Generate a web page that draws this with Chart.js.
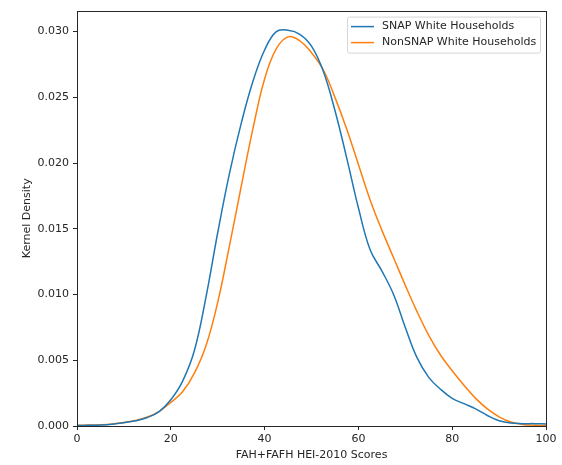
<!DOCTYPE html>
<html>
<head>
<meta charset="utf-8">
<script src="https://cdn.jsdelivr.net/npm/chart.js@4/dist/chart.umd.min.js"></script>
<style>
  html, body { margin: 0; padding: 0; background: #fff; }
  canvas { display: block; }
</style>
</head>
<body>
<canvas id="kdeChart" width="562" height="465"></canvas>
<script>
// HEI score grid (x) and kernel density values
const scores = [0, 2.5, 5, 7.5, 10, 12.5, 15, 17.5, 20, 22.5, 25, 27.5, 30, 32.5, 35, 37.5, 40, 42.5, 45, 47.5,
                50, 52.5, 55, 57.5, 60, 62.5, 65, 67.5, 70, 72.5, 75, 77.5, 80, 82.5, 85, 87.5, 90, 92.5, 95, 97.5, 100];

const snapDensity = [0.00003, 0.00005, 0.00008, 0.00014, 0.00025, 0.00040, 0.00065, 0.0011, 0.0020, 0.0034,
                     0.0057, 0.0098, 0.0147, 0.0192, 0.0230, 0.0262, 0.0286, 0.0300, 0.0301, 0.0298,
                     0.0289, 0.0270, 0.0240, 0.0204, 0.0166, 0.0134, 0.0118, 0.0100, 0.0075, 0.0052,
                     0.0037, 0.0028, 0.0021, 0.0017, 0.0013, 0.0008, 0.0004, 0.00022, 0.00018, 0.00018, 0.00016];

const nonSnapDensity = [0.00005, 0.00007, 0.0001, 0.00016, 0.00027, 0.00042, 0.00068, 0.0011, 0.0018, 0.0026,
                        0.0040, 0.0061, 0.0094, 0.0137, 0.0182, 0.0226, 0.0264, 0.0287, 0.0296, 0.0293,
                        0.0284, 0.0271, 0.0250, 0.0226, 0.0199, 0.0172, 0.0149, 0.0128, 0.0107, 0.0087,
                        0.0069, 0.0054, 0.0042, 0.0031, 0.0021, 0.0013, 0.0007, 0.0003, 0.00012, 0.00006, 0.00004];

const seriesLabels = ['SNAP White Households', 'NonSNAP White Households'];
const xTickValues  = [0, 20, 40, 60, 80, 100];
const yTickValues  = [0, 0.005, 0.010, 0.015, 0.020, 0.025, 0.030];

const FONT = 'DejaVu Sans';
const INK  = '#262626';

// full box around the plot area, like matplotlib spines
const frameBox = {
  id: 'frameBox',
  afterDatasetsDraw(chart) {
    const { ctx, chartArea: a } = chart;
    ctx.save();
    ctx.strokeStyle = INK;
    ctx.lineWidth = 1;
    ctx.strokeRect(Math.round(a.left) + 0.5, Math.round(a.top) + 0.5,
                   Math.round(a.right - a.left), Math.round(a.bottom - a.top));
    ctx.restore();
  }
};

// legend box in the upper right corner
const cornerLegend = {
  id: 'cornerLegend',
  afterDraw(chart) {
    const { ctx, chartArea: a } = chart;
    const sets = chart.data.datasets;
    const w = 193, rowH = 16, h = 36;
    const x0 = a.right - 6 - w, y0 = a.top + 6;
    ctx.save();
    ctx.fillStyle = 'rgba(255,255,255,0.8)';
    ctx.strokeStyle = '#d6d6d6';
    ctx.lineWidth = 1;
    ctx.beginPath();
    ctx.roundRect(x0 + 0.5, y0 + 0.5, w, h, 2);
    ctx.fill();
    ctx.stroke();
    ctx.font = `11px "${FONT}"`;
    ctx.textBaseline = 'middle';
    sets.forEach((ds, i) => {
      const cy = y0 + 10 + i * rowH;
      ctx.strokeStyle = ds.borderColor;
      ctx.lineWidth = 1.5;
      ctx.beginPath();
      ctx.moveTo(x0 + 4, cy);
      ctx.lineTo(x0 + 27, cy);
      ctx.stroke();
      ctx.fillStyle = INK;
      ctx.fillText(ds.label, x0 + 35, cy);
    });
    ctx.restore();
  }
};

const toPoints = ys => scores.map((x, i) => ({ x, y: ys[i] }));

new Chart(document.getElementById('kdeChart'), {
  type: 'line',
  data: {
    datasets: [
      { label: seriesLabels[0], data: toPoints(snapDensity),    borderColor: '#1f77b4', borderWidth: 1.5, pointRadius: 0, tension: 0.4, fill: false },
      { label: seriesLabels[1], data: toPoints(nonSnapDensity), borderColor: '#ff7f0e', borderWidth: 1.5, pointRadius: 0, tension: 0.4, fill: false },
    ],
  },
  options: {
    responsive: false,
    animation: false,
    devicePixelRatio: 1,
    layout: { padding: { left: 0, top: 10, right: 16, bottom: 0 } },
    plugins: { legend: { display: false }, tooltip: { enabled: false } },
    scales: {
      x: {
        type: 'linear', min: 0, max: 100,
        afterFit: s => { s.height = 39; },
        afterBuildTicks: s => { s.ticks = xTickValues.map(v => ({ value: v })); },
        grid: { drawOnChartArea: false, drawTicks: true, tickLength: 4, tickColor: INK },
        border: { display: false },
        ticks: { color: INK, padding: 3, maxRotation: 0, font: { family: FONT, size: 11 } },
        title: { display: true, text: 'FAH+FAFH HEI-2010 Scores', color: INK, font: { family: FONT, size: 11 }, padding: { top: 2, bottom: 3 } },
      },
      y: {
        min: 0, max: 0.0316,
        afterFit: s => { s.width = 77; },
        afterBuildTicks: s => { s.ticks = yTickValues.map(v => ({ value: v })); },
        grid: { drawOnChartArea: false, drawTicks: true, tickLength: 4, tickColor: INK },
        border: { display: false },
        ticks: { color: INK, padding: 4, font: { family: FONT, size: 11 }, callback: v => v.toFixed(3) },
        title: { display: true, text: 'Kernel Density', color: INK, font: { family: FONT, size: 11 }, padding: { top: 21, bottom: 4 } },
      },
    },
  },
  plugins: [frameBox, cornerLegend],
});
</script>
</body>
</html>
